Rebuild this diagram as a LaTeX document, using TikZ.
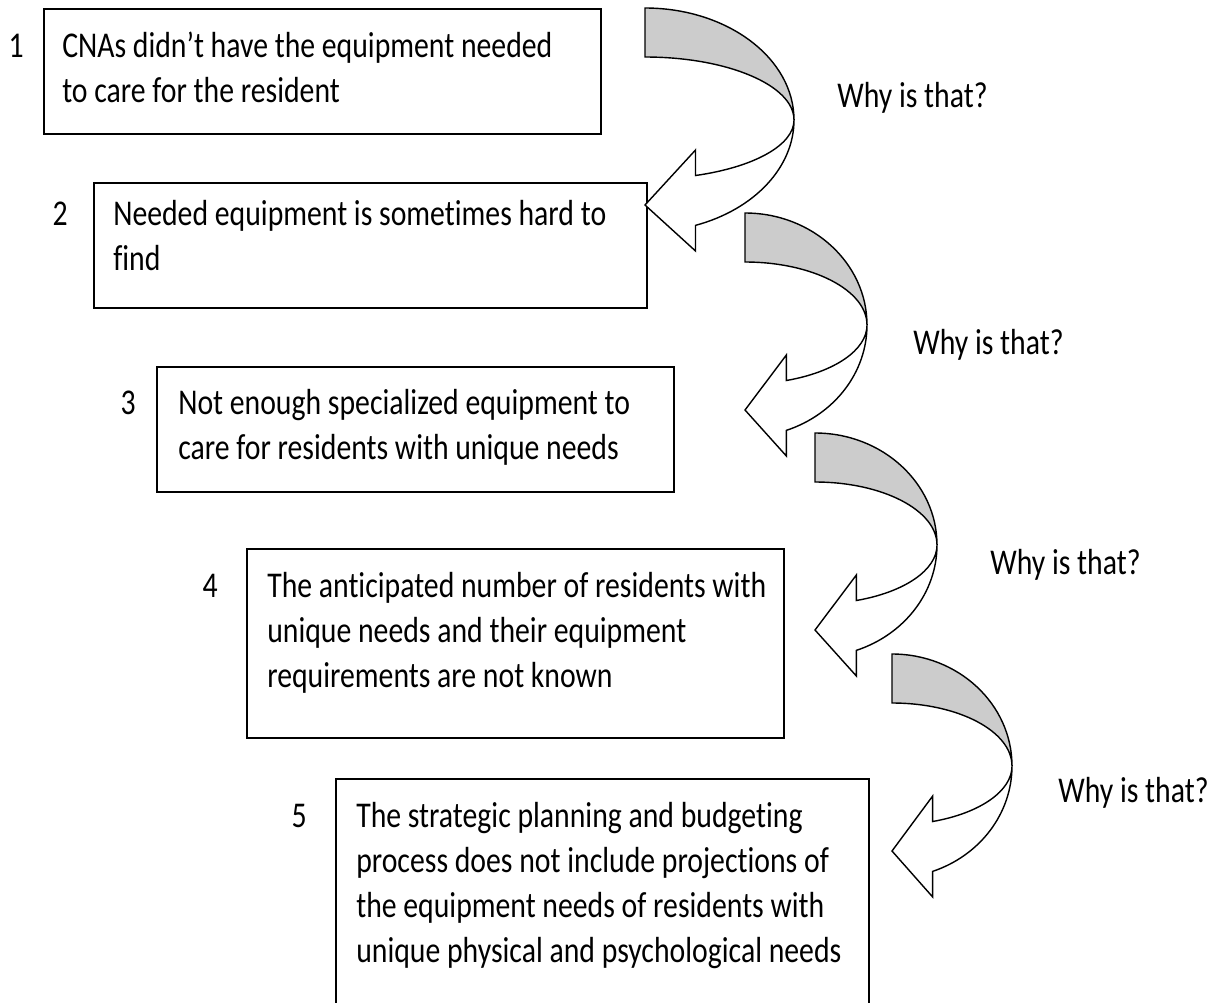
\documentclass[tikz,border=0pt]{standalone}
\usepackage{fontspec}
\setmainfont{Carlito}[FakeStretch=0.82,Ligatures=NoCommon]
\usetikzlibrary{positioning}
\usetikzlibrary{calc}
\newcommand{\pxu}{0.025cm}
\tikzset{
    causebox/.style = {rectangle,draw,line width=1.4pt,anchor=north west,inner sep=0pt},
    causetext/.style = {anchor=base west,align=left,inner sep=0pt,font=\fontsize{25.8}{32}\selectfont},
    stepnum/.style = {anchor=base east,inner sep=0pt,font=\fontsize{25.8}{32}\selectfont},
    whylabel/.style = {anchor=west,inner sep=0pt,font=\fontsize{25.8}{32}\selectfont},
    pics/whyarrow/.style = {code={
        \pgfmathsetmacro\bx{0.339*#1}
        \filldraw[line width=1pt,fill=black!20] (0,0) arc[start angle=-90,end angle=0,x radius=#1,y radius=112]
            arc[start angle=0,end angle=-90,x radius=#1,y radius=63] -- cycle;
        \filldraw[line width=1pt,fill=white] (#1,112) arc[start angle=0,end angle=70.2,x radius=#1,y radius=112]
            -- (\bx,243) -- (0,197) -- (\bx,142) -- (\bx,167.5)
            arc[start angle=70.2,end angle=0,x radius=#1,y radius=59] -- cycle;
    }}}
\begin{document}
\begin{tikzpicture}[x=0.025cm,y=-0.025cm]
    \useasboundingbox (0,0) rectangle (1212,1002);
    \clip (0,0) rectangle (1212,1002);
    % the five boxes
    \node[causebox,minimum width=557*\pxu,minimum height=125*\pxu] (box1) at (43,8) {};
    \node[causebox,minimum width=553*\pxu,minimum height=125*\pxu] (box2) at (93,182) {};
    \node[causebox,minimum width=517*\pxu,minimum height=125*\pxu] (box3) at (156,366) {};
    \node[causebox,minimum width=537*\pxu,minimum height=189*\pxu] (box4) at (246,548) {};
    \node[causebox,minimum width=533*\pxu,minimum height=260*\pxu] (box5) at (335,778) {};
    % texts, placed by the baseline of their last line
    \node[causetext] (cause1) at ($(box1.north west)+(19,94)$) {CNAs didn’t have the equipment needed\\to care for the resident};
    \node[causetext] (cause2) at ($(box2.north west)+(20,88)$) {Needed equipment is sometimes hard to\\find};
    \node[causetext] (cause3) at ($(box3.north west)+(22,93)$) {Not enough specialized equipment to\\care for residents with unique needs};
    \node[causetext] (cause4) at ($(box4.north west)+(21,139)$) {The anticipated number of residents with\\unique needs and their equipment\\requirements are not known};
    \node[causetext] (cause5) at ($(box5.north west)+(21,184)$) {The strategic planning and budgeting\\process does not include projections of\\the equipment needs of residents with\\unique physical and psychological needs};
    % step numbers
    \node[stepnum] (num1) at ($(box1.north west)+(-19,49)$) {1};
    \node[stepnum] (num2) at ($(box2.north west)+(-25,43)$) {2};
    \node[stepnum] (num3) at ($(box3.north west)+(-20,48)$) {3};
    \node[stepnum] (num4) at ($(box4.north west)+(-28,49)$) {4};
    \node[stepnum] (num5) at ($(box5.north west)+(-28,49)$) {5};
    % curved arrows
    \pic at (645,8) {whyarrow=149};
    \pic at (745,213) {whyarrow=122};
    \pic at (815,433) {whyarrow=122};
    \pic at (892,654) {whyarrow=120};
    \node[whylabel] (why1) at (837,98) {Why is that?};
    \node[whylabel] (why2) at (913,345) {Why is that?};
    \node[whylabel] (why3) at (990,565) {Why is that?};
    \node[whylabel] (why4) at (1058,793) {Why is that?};
\end{tikzpicture}
\end{document}
